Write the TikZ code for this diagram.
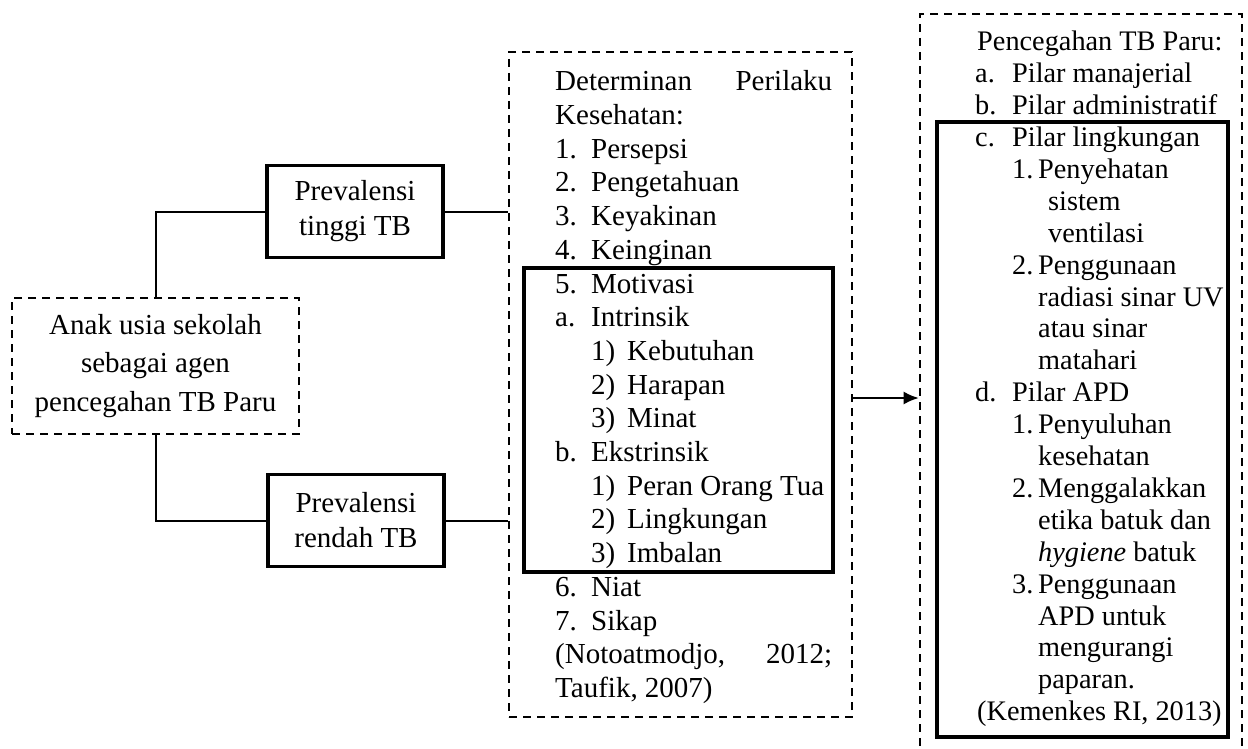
\documentclass[tikz,border=0pt]{standalone}
\usepackage{fontspec}
\setmainfont{Liberation Serif}
\usetikzlibrary{arrows.meta,positioning}

\newcommand{\lbl}[1]{\makebox[36pt][l]{#1}}
\newcommand{\rlbl}[1]{\makebox[37pt][l]{#1}}
\newcommand{\slbl}[1]{\makebox[26pt][l]{#1}}

\tikzset{
	solidbox/.style={draw, line width=3.4pt, minimum width=176pt, minimum height=92pt, align=center, inner sep=0pt, font=\fontsize{29}{35}\selectfont},
	dashbox/.style={draw, line width=2.6pt, dash pattern=on 8pt off 6pt, inner sep=0pt},
	conn/.style={line width=2pt},
	listtxt/.style={anchor=north west, align=flush left, inner sep=0pt},
}

\begin{document}
\begin{tikzpicture}[x=1pt, y=-1pt, >={Latex[length=15pt,width=13pt]}]
			\useasboundingbox (0,0) rectangle (1248,749);
			
			% --- Kotak kiri ---
			\node[dashbox, minimum width=287pt, minimum height=136pt, align=center, font=\fontsize{29}{38.5}\selectfont] (anak) at (155.5,366)
			{Anak usia sekolah\\sebagai agen\\pencegahan TB Paru};
			\node[solidbox] (tinggi) at (355,211.5) {Prevalensi\\tinggi TB};
			\node[solidbox] (rendah) at (356,520.5) {Prevalensi\\rendah TB};
			
			% --- Determinan perilaku ---
			\node[dashbox, minimum width=343pt, minimum height=665pt] (perilaku) at (680.5,384.5) {};
			\draw[line width=3.4pt] (524,268) rectangle (833,572);
			\node[listtxt, text width=277pt, font=\fontsize{29}{33.7}\selectfont] (perilakutxt) at (555,70.5) {%
				Determinan\hfill Perilaku\\
				Kesehatan:\\
				\lbl{1.}Persepsi\\
				\lbl{2.}Pengetahuan\\
				\lbl{3.}Keyakinan\\
				\lbl{4.}Keinginan\\
				\lbl{5.}Motivasi\\
				\lbl{a.}Intrinsik\\
				\hspace*{36pt}\lbl{1)}Kebutuhan\\
				\hspace*{36pt}\lbl{2)}Harapan\\
				\hspace*{36pt}\lbl{3)}Minat\\
				\lbl{b.}Ekstrinsik\\
				\hspace*{36pt}\lbl{1)}Peran Orang Tua\\
				\hspace*{36pt}\lbl{2)}Lingkungan\\
				\hspace*{36pt}\lbl{3)}Imbalan\\
				\lbl{6.}Niat\\
				\lbl{7.}Sikap\\
				(Notoatmodjo,\hfill 2012;\\
				Taufik, 2007)};
			
			% --- Pencegahan TB Paru ---
			\node[dashbox, minimum width=322pt, minimum height=746pt] (pencegahan) at (1081,387) {};
			\draw[line width=3.4pt] (937,122) rectangle (1228,737);
			\node[listtxt, font=\fontsize{28.3}{31.9}\selectfont] (pencegahantxt) at (975,31) {%
				\hspace*{2pt}Pencegahan TB Paru:\\
				\rlbl{a.}Pilar manajerial\\
				\rlbl{b.}Pilar administratif\\
				\rlbl{c.}Pilar lingkungan\\
				\hspace*{37pt}\slbl{1.}Penyehatan\\
				\hspace*{73pt}sistem\\
				\hspace*{73pt}ventilasi\\
				\hspace*{37pt}\slbl{2.}Penggunaan\\
				\hspace*{63pt}radiasi sinar UV\\
				\hspace*{63pt}atau sinar\\
				\hspace*{63pt}matahari\\
				\rlbl{d.}Pilar APD\\
				\hspace*{37pt}\slbl{1.}Penyuluhan\\
				\hspace*{63pt}kesehatan\\
				\hspace*{37pt}\slbl{2.}Menggalakkan\\
				\hspace*{63pt}etika batuk dan\\
				\hspace*{63pt}\textit{hygiene} batuk\\
				\hspace*{37pt}\slbl{3.}Penggunaan\\
				\hspace*{63pt}APD untuk\\
				\hspace*{63pt}mengurangi\\
				\hspace*{63pt}paparan.\\
				\hspace*{2pt}(Kemenkes RI, 2013)};
			
			% --- Garis penghubung ---
			\draw[conn] (tinggi.west) -| (anak.north);
			\draw[conn] (anak.south) |- (rendah.west);
			\draw[conn] (tinggi.east) -- (tinggi.east -| perilaku.west);
			\draw[conn] (rendah.east) -- (rendah.east -| perilaku.west);
			\coordinate (panah) at (perilaku.east |- 0,398);
			\draw[conn, ->] (panah) -- (panah -| pencegahan.west);
		\end{tikzpicture}
\end{document}
